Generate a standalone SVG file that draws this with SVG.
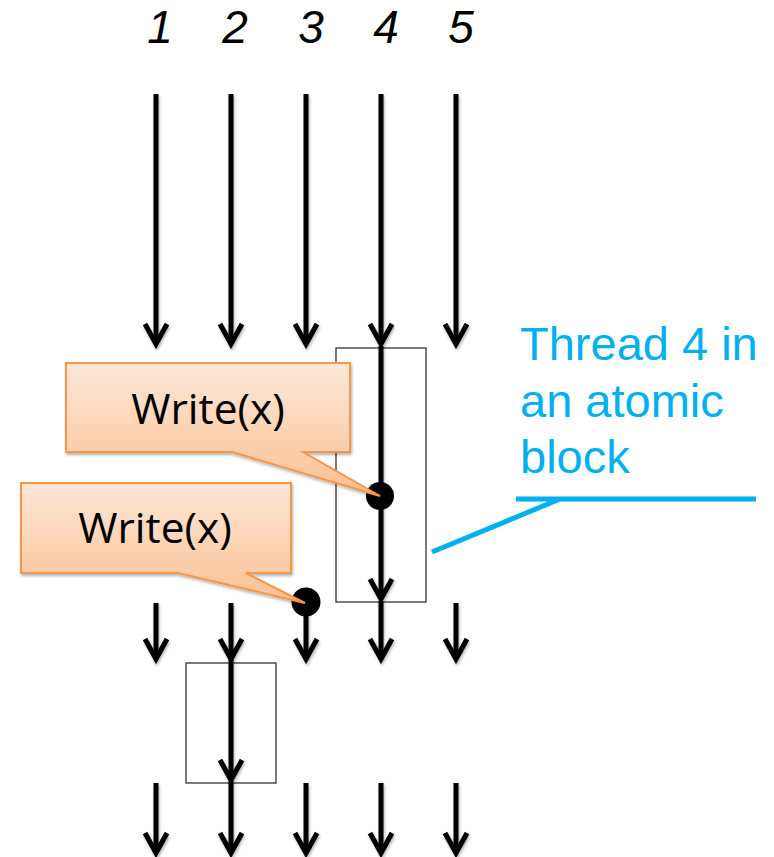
<svg xmlns="http://www.w3.org/2000/svg" width="774" height="857" viewBox="0 0 774 857">
<style>
.num{font-family:"Liberation Sans",Arial,sans-serif;font-style:italic;font-size:46px;fill:#000;text-anchor:middle}
.arr{stroke:#000;stroke-width:5;fill:none;marker-end:url(#ah)}
.box{fill:none;stroke:#333;stroke-width:1.3}
.call{fill:url(#og);stroke:#f79646;stroke-width:2;stroke-linejoin:miter}
.wt{font-family:"Open Sans","Liberation Sans",sans-serif;font-size:42.5px;fill:#000;text-anchor:middle}
.blue{font-family:"Liberation Sans",Arial,sans-serif;font-size:47px;fill:#00b0f0}
.bl{stroke:#00b0f0;stroke-width:5;fill:none}
</style>
<defs>
<linearGradient id="og" x1="0" y1="0" x2="0" y2="1">
<stop offset="0" stop-color="#fde8d8"/>
<stop offset="1" stop-color="#fbc093"/>
</linearGradient>
<marker id="ah" markerUnits="userSpaceOnUse" markerWidth="30" markerHeight="30" viewBox="-25 -15 30 30" refX="0" refY="0" orient="auto">
<path d="M-20,-11 L0,0 L-20,11" fill="none" stroke="#000" stroke-width="5" stroke-linejoin="miter"/>
</marker>
<filter id="sh" filterUnits="userSpaceOnUse" x="0" y="0" width="774" height="857">
<feDropShadow dx="1" dy="2" stdDeviation="1.5" flood-color="#000" flood-opacity="0.3"/>
</filter>
</defs>
<rect width="774" height="857" fill="#fff"/>

<g id="labels">
<text class="num" x="160" y="43">1</text>
<text class="num" x="235" y="43">2</text>
<text class="num" x="311" y="43">3</text>
<text class="num" x="386" y="43">4</text>
<text class="num" x="461" y="43">5</text>
</g>

<g id="box-thread4"><rect class="box" x="336" y="348" width="90" height="254"/></g>
<g id="box-thread2"><rect class="box" x="186" y="663" width="90" height="120"/></g>

<g id="connectors" filter="url(#sh)">
<line class="arr" x1="156" y1="94" x2="156" y2="344"/>
<line class="arr" x1="231" y1="94" x2="231" y2="344"/>
<line class="arr" x1="306" y1="94" x2="306" y2="344"/>
<line class="arr" x1="381" y1="94" x2="381" y2="344"/>
<line class="arr" x1="456" y1="94" x2="456" y2="344"/>

<line class="arr" x1="381" y1="346" x2="381" y2="599"/>

<line class="arr" x1="156" y1="603" x2="156" y2="659"/>
<line class="arr" x1="231" y1="603" x2="231" y2="659"/>
<line class="arr" x1="306" y1="603" x2="306" y2="659"/>
<line class="arr" x1="381" y1="601" x2="381" y2="659"/>
<line class="arr" x1="456" y1="603" x2="456" y2="659"/>

<line class="arr" x1="231" y1="658" x2="231" y2="780"/>

<line class="arr" x1="156" y1="783" x2="156" y2="853"/>
<line class="arr" x1="231" y1="781" x2="231" y2="853"/>
<line class="arr" x1="306" y1="783" x2="306" y2="853"/>
<line class="arr" x1="381" y1="783" x2="381" y2="853"/>
<line class="arr" x1="456" y1="783" x2="456" y2="853"/>
</g>

<g id="dot4"><circle cx="380" cy="496" r="14" fill="#000"/></g>
<g id="dot3"><circle cx="306" cy="602" r="14.5" fill="#000"/></g>

<g id="callout1">
<path class="call" filter="url(#sh)" d="M66,363 H350 V452 H303 L380,496 L232,452 H66 Z"/>
<text class="wt" x="208" y="424">Write(x)</text>
</g>

<g id="callout2">
<path class="call" filter="url(#sh)" d="M21,483 H291 V573 H246 L305,603 L178,573 H21 Z"/>
<text class="wt" x="155" y="543">Write(x)</text>
</g>

<g id="annotation">
<text class="blue" x="520" y="360">Thread 4 in</text>
<text class="blue" x="520" y="417">an atomic</text>
<text class="blue" x="520" y="473">block</text>
<path class="bl" d="M432,552 L560,499 M516,499 H756"/>
</g>
</svg>
